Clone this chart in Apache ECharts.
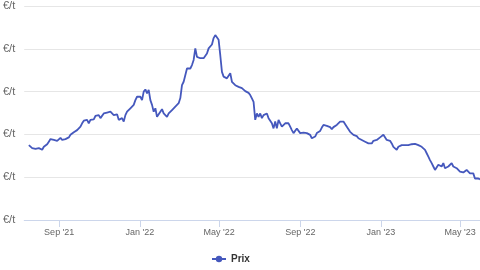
<!DOCTYPE html>
<html>
<head>
<meta charset="utf-8">
<script src="https://cdn.jsdelivr.net/npm/echarts@6/dist/echarts.min.js"></script>
<style>
  html, body { margin: 0; padding: 0; background: #fff; }
  #chart { width: 480px; height: 270px; }
</style>
</head>
<body>
<div id="chart"></div>
<script>
// prix (€/t), un point tous les ~2,5 jours à partir du 17/07/2021
var firstDay = new Date(2021, 6, 17).getTime();
var dayStep = 2.52;
var prix = [
  175, 173, 168, 171, 166, 169, 168, 165, 164, 171, 175, 177, 183, 189, 185, 187, 183, 185, 189, 192,
  187, 190, 189, 191, 193, 199, 203, 205, 208, 210, 214, 218, 226, 232, 235, 234, 226, 234, 238, 235,
  243, 240, 245, 238, 241, 249, 245, 251, 247, 253, 249, 245, 241, 247, 234, 230, 238, 230, 245, 253,
  257, 261, 257, 269, 280, 288, 292, 288, 280, 300, 305, 296, 304, 280, 269, 253, 261, 241, 245, 253,
  259, 249, 245, 241, 249, 250, 257, 261, 265, 269, 273, 285, 315, 323, 319, 354, 358, 354, 362, 374,
  401, 381, 382, 378, 382, 378, 382, 389, 401, 405, 410, 425, 432, 432, 421, 385, 346, 335, 331, 331,
  327, 343, 323, 319, 315, 319, 311, 315, 308, 311, 301, 301, 297, 292, 284, 276, 234, 249, 241, 249,
  238, 245, 241, 249, 238, 234, 226, 214, 230, 214, 234, 226, 218, 222, 226, 230, 226, 218, 210, 203,
  206, 214, 210, 203, 206, 204, 206, 203, 201, 199, 191, 189, 195, 203, 199, 208, 216, 222, 218, 220,
  218, 217, 212, 217, 218, 222, 226, 230, 234, 230, 226, 218, 214, 206, 203, 199, 195, 196, 191, 189,
  187, 183, 183, 181, 179, 181, 179, 185, 183, 187, 191, 193, 195, 199, 195, 187, 183, 185, 179, 171,
  168, 164, 171, 169, 175, 173, 175, 177, 175, 178, 177, 179, 178, 179, 175, 173, 171, 168, 164, 156,
  148, 140, 133, 125, 117, 121, 129, 133, 125, 133, 121, 117, 125, 129, 133, 125, 129, 121, 117, 113,
  113, 111, 113, 117, 113, 109, 105, 109, 97, 101, 97, 95
];
var tickDates = [
  new Date(2021, 8, 1).getTime(),
  new Date(2022, 0, 1).getTime(),
  new Date(2022, 4, 1).getTime(),
  new Date(2022, 8, 1).getTime(),
  new Date(2023, 0, 1).getTime(),
  new Date(2023, 4, 1).getTime()
];
var monthNames = ['Jan', 'Feb', 'Mar', 'Apr', 'May', 'Jun', 'Jul', 'Aug', 'Sep', 'Oct', 'Nov', 'Dec'];

var points = [];
for (var i = 0; i < prix.length; i++) {
  points.push([firstDay + i * dayStep * 86400000, prix[i]]);
}

var chart = echarts.init(document.getElementById('chart'));
chart.setOption({
  animation: false,
  backgroundColor: '#ffffff',
  textStyle: { fontFamily: 'Liberation Sans, Arial, sans-serif' },
  grid: { left: 24, right: 0, top: 6, bottom: 50 },
  legend: {
    data: ['Prix'],
    left: 206,
    top: 249,
    itemWidth: 14,
    itemHeight: 8,
    itemGap: 4,
    textStyle: { fontSize: 10, fontWeight: 'bold', color: '#333' }
  },
  xAxis: {
    type: 'value',
    min: new Date(2021, 6, 10).getTime(),
    max: new Date(2023, 4, 31).getTime(),
    axisLine: { lineStyle: { color: '#ccd6eb', width: 1 } },
    axisTick: { show: true, length: 7, lineStyle: { color: '#ccd6eb' }, customValues: tickDates },
    splitLine: { show: false },
    axisLabel: {
      customValues: tickDates,
      margin: 8,
      fontSize: 9,
      color: '#666',
      formatter: function (v) {
        var d = new Date(v);
        return monthNames[d.getMonth()] + " '" + String(d.getFullYear()).slice(2);
      }
    }
  },
  yAxis: {
    type: 'value',
    min: 0,
    max: 500,
    interval: 100,
    axisLine: { show: false },
    axisTick: { show: false },
    splitLine: { lineStyle: { color: '#e6e6e6' } },
    axisLabel: { margin: 9, fontSize: 11, color: '#666', formatter: function () { return '€/t'; } }
  },
  series: [{
    name: 'Prix',
    type: 'line',
    data: points,
    showSymbol: false,
    symbol: 'circle',
    symbolSize: 6,
    itemStyle: { color: '#4558bd' },
    lineStyle: { color: '#4558bd', width: 1.8 }
  }]
});
</script>
</body>
</html>
